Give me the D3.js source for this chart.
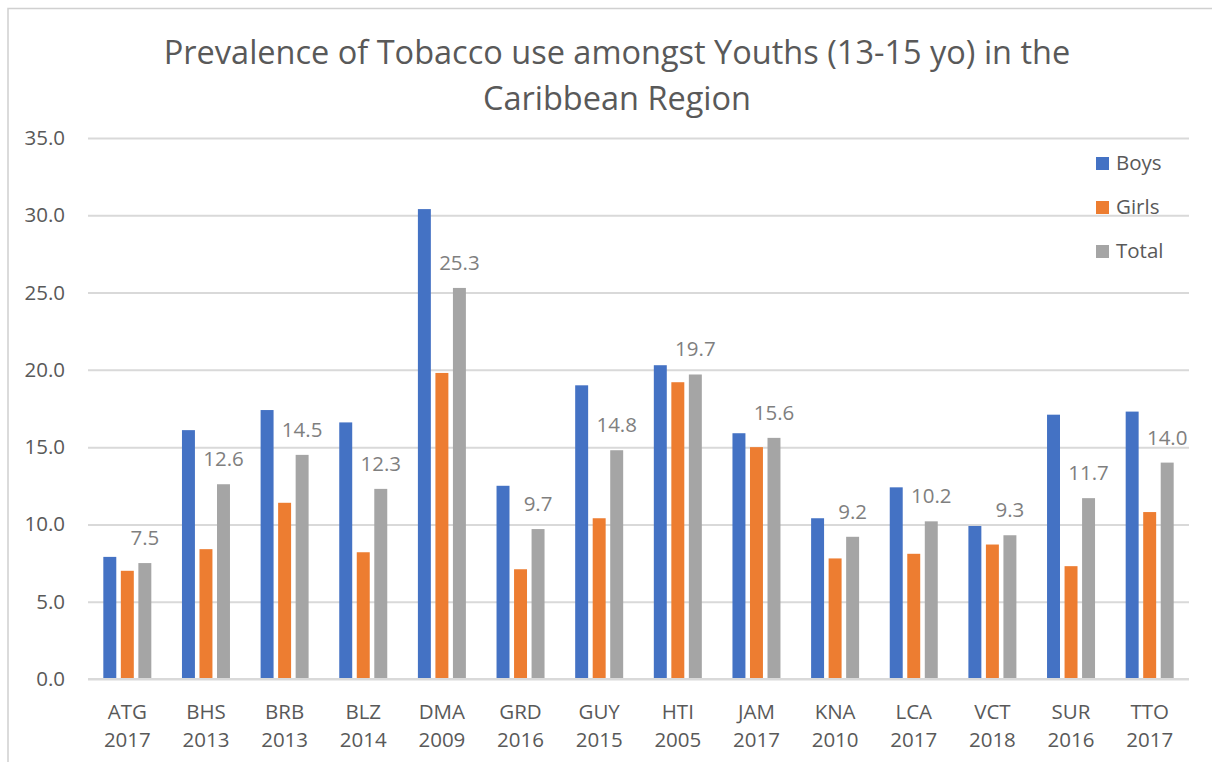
<!DOCTYPE html>
<html><head><meta charset="utf-8">
<script src="https://cdn.jsdelivr.net/npm/d3@7"></script>
<style>body{margin:0;background:#fff;}svg{display:block;font-family:"Open Sans",sans-serif;}</style>
</head><body>
<svg id="c" width="1212" height="762"></svg>
<script>
const countries = ["ATG","BHS","BRB","BLZ","DMA","GRD","GUY","HTI","JAM","KNA","LCA","VCT","SUR","TTO"];
const years = ["2017","2013","2013","2014","2009","2016","2015","2005","2017","2010","2017","2018","2016","2017"];
const boys  = [7.9,16.1,17.4,16.6,30.4,12.5,19.0,20.3,15.9,10.4,12.4,9.9,17.1,17.3];
const girls = [7.0,8.4,11.4,8.2,19.8,7.1,10.4,19.2,15.0,7.8,8.1,8.7,7.3,10.8];
const total = [7.5,12.6,14.5,12.3,25.3,9.7,14.8,19.7,15.6,9.2,10.2,9.3,11.7,14.0];
const seriesNames = ["Boys","Girls","Total"];
const yTicks = [0,5,10,15,20,25,30,35];
const colors = ["#4472C4","#ED7D31","#A5A5A5"];

const svg = d3.select("#c");
const pLeft = 88, pRight = 1189, pTop = 138, pBottom = 679;
const fs = "20.5px";

// outer border
svg.append("path").attr("d","M8,762 V8.5 H1212").attr("fill","none").attr("stroke","#d0d0d0").attr("stroke-width",1.5);

const x = d3.scaleBand().domain(countries).range([pLeft,pRight]).paddingInner(0).paddingOuter(0);
const y = d3.scaleLinear().domain([0,35]).range([pBottom,pTop]);
const inner = d3.scaleBand().domain(seriesNames).range([0,48]).paddingInner(0.26);

// title
const t = svg.append("text").attr("text-anchor","middle").attr("fill","#595959")
  .style("font-size","32.5px").style("font-weight","400");
t.append("tspan").attr("x",617).attr("y",64).text("Prevalence of Tobacco use amongst Youths (13-15 yo) in the");
t.append("tspan").attr("x",617).attr("y",110).text("Caribbean Region");

// gridlines + y labels
const yAxis = d3.axisLeft(y).tickValues(yTicks).tickSize(-(pRight-pLeft)).tickFormat(d3.format(".1f")).tickPadding(23);
const ga = svg.append("g").attr("transform",`translate(${pLeft},0)`).call(yAxis);
ga.select(".domain").remove();
ga.selectAll(".tick line").attr("stroke","#d9d9d9").attr("stroke-width",2);
ga.selectAll(".tick text").attr("fill","#595959").style("font-size",fs).style("font-family","Open Sans");

// bars
const data = countries.map((c,i)=>({c, vals:[boys[i],girls[i],total[i]]}));
const groups = svg.append("g").selectAll("g").data(data).join("g")
  .attr("transform",d=>`translate(${x(d.c)+x.bandwidth()/2-24},0)`);
groups.selectAll("rect").data(d=>d.vals.map((v,k)=>({v,k}))).join("rect")
  .attr("x",d=>inner(seriesNames[d.k])).attr("width",inner.bandwidth())
  .attr("y",d=>y(d.v)).attr("height",d=>y(0)-y(d.v))
  .attr("fill",d=>colors[d.k]);
svg.append("line").attr("x1",pLeft).attr("x2",pRight).attr("y1",y(0)).attr("y2",y(0)).attr("stroke","#d9d9d9").attr("stroke-width",2);

// data labels for total
groups.append("text").attr("text-anchor","middle")
  .attr("x",d=>inner("Total")+inner.bandwidth()/2)
  .attr("y",d=>y(d.vals[2])-18)
  .attr("fill","#7f7f7f").style("font-size",fs)
  .text(d=>d3.format(".1f")(d.vals[2]));

// x labels
const xl = svg.append("g").selectAll("text").data(countries).join("text")
  .attr("text-anchor","middle").attr("fill","#595959").style("font-size",fs);
xl.append("tspan").attr("x",d=>x(d)+x.bandwidth()/2).attr("y",719).text(d=>d);
xl.append("tspan").attr("x",(d)=>x(d)+x.bandwidth()/2).attr("y",747).text((d,i)=>years[i]);

// legend
const lg = svg.append("g").selectAll("g").data(seriesNames).join("g")
  .attr("transform",(d,i)=>`translate(1096,${157+i*44})`);
lg.append("rect").attr("width",13).attr("height",13).attr("fill",(d,i)=>colors[i]);
lg.append("text").attr("x",20).attr("y",12.5).attr("fill","#595959").style("font-size",fs).text(d=>d);
</script>
</body></html>
